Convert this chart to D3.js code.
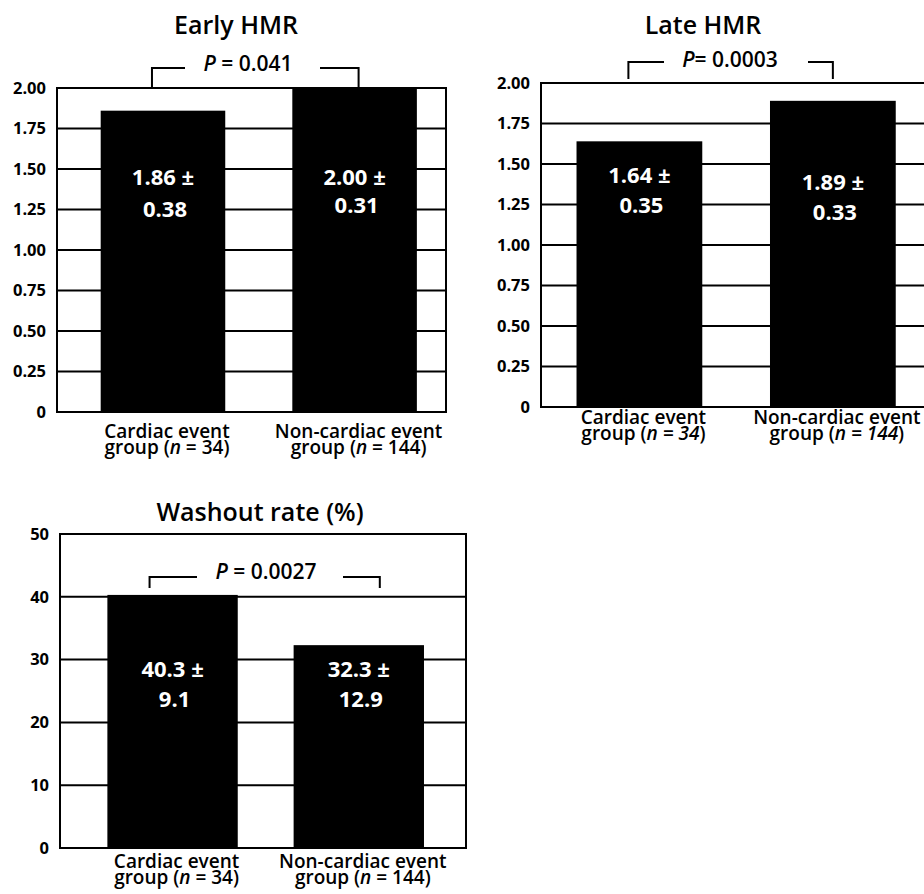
<!DOCTYPE html>
<html>
<head>
<meta charset="utf-8">
<style>
body { margin: 0; background: #fff; }
svg text { font-family: "Open Sans", Lato, sans-serif; font-weight: bold; fill: #000; }
.frame line, .grid line { stroke: #000; stroke-width: 2px; }
.bracket { fill: none; stroke: #000; stroke-width: 2px; }
</style>
</head>
<body>
<svg width="924" height="894"></svg>
<script src="https://cdn.jsdelivr.net/npm/d3@7"></script>
<script>

// group names and sizes
var groups = ["Cardiac event", "Non-cardiac event"];
var groupN = [34, 144];

// mean +/- SD for each measure
var earlyMean = [1.86, 2.00], earlySD = [0.38, 0.31];
var lateMean = [1.64, 1.89], lateSD = [0.35, 0.33];
var washMean = [40.3, 32.3], washSD = [9.1, 12.9];

// axis ticks
var hmrTicks = [0, 0.25, 0.5, 0.75, 1, 1.25, 1.5, 1.75, 2];
var washTicks = [0, 10, 20, 30, 40, 50];

var titles = ["Early HMR", "Late HMR", "Washout rate (%)"];
var pValues = ["0.041", "0.0003", "0.0027"];

var svg = d3.select("svg");

var fmtHmr = function(d) { return d === 0 ? "0" : d3.format(".2f")(d); };
var fmtWash = d3.format("d");

// layout for each panel
var panels = [
  { title: titles[0], mean: earlyMean, sd: earlySD, ticks: hmrTicks, fmt: fmtHmr, dec: 2,
    p: pValues[0], pSep: " = ", left: 57, right: 446, top: 88, bottom: 412,
    pad: [0.35, 0.19, 0.6], titleX: 236, titleY: 34, pX: 248, pY: 71, brTop: 68, brBot: 88, brOff: [-11, 4], brGap: [185, 320],
    labY: [97, 97], labGap: [32, 28], xlabY: 26, italicAll: false, rightBorder: true },
  { title: titles[1], mean: lateMean, sd: lateSD, ticks: hmrTicks, fmt: fmtHmr, dec: 2,
    p: pValues[1], pSep: "= ", left: 541, right: 926, top: 83, bottom: 407,
    pad: [0.35, 0.17, 0.54], titleX: 703, titleY: 34, pX: 730, pY: 67, brTop: 62, brBot: 79, brOff: [-11, 0], brGap: [664, 808],
    labY: [100, 107], labGap: [30, 30], xlabY: 17, italicAll: true, rightBorder: false },
  { title: titles[2], mean: washMean, sd: washSD, ticks: washTicks, fmt: fmtWash, dec: 1,
    p: pValues[2], pSep: " = ", left: 60, right: 466, top: 534, bottom: 848,
    pad: [0.3, 0.24, 0.53], titleX: 260, titleY: 521, pX: 266, pY: 579, brTop: 577, brBot: 588, brOff: [-23, 21], brGap: [197, 343],
    labY: [143, 143], labGap: [30, 30], xlabY: 20, italicAll: false, rightBorder: true }
];

panels.forEach(drawPanel);

function drawPanel(cfg) {
  var g = svg.append("g");
  var rows = groups.map(function(name, i) {
    return { name: name, n: groupN[i], mean: cfg.mean[i], sd: cfg.sd[i] };
  });

  var x = d3.scaleBand()
      .domain(groups)
      .range([cfg.left, cfg.right])
      .paddingInner(cfg.pad[0])
      .paddingOuter(cfg.pad[1])
      .align(cfg.pad[2]);

  var y = d3.scaleLinear()
      .domain([0, d3.max(cfg.ticks)])
      .range([cfg.bottom, cfg.top]);

  // gridlines (bars sit on top of them)
  g.append("g").attr("class", "grid")
    .selectAll("line")
    .data(cfg.ticks)
    .enter().append("line")
      .attr("x1", cfg.left).attr("x2", cfg.right)
      .attr("y1", function(d) { return y(d); })
      .attr("y2", function(d) { return y(d); });

  var frame = g.append("g").attr("class", "frame");
  frame.append("line")
      .attr("x1", cfg.left).attr("x2", cfg.left)
      .attr("y1", y.range()[1] - 1).attr("y2", y.range()[0] + 1);
  if (cfg.rightBorder) {
    frame.append("line")
        .attr("x1", cfg.right).attr("x2", cfg.right)
        .attr("y1", y.range()[1] - 1).attr("y2", y.range()[0] + 1);
  }

  // y tick labels
  var yAxis = d3.axisLeft(y).tickValues(cfg.ticks).tickFormat(cfg.fmt).tickSize(0).tickPadding(11);
  var ya = g.append("g")
      .attr("transform", "translate(" + cfg.left + ",0)")
      .call(yAxis);
  ya.select(".domain").remove();
  ya.attr("font-size", null).attr("font-family", null);
  ya.selectAll("text").style("font-size", "16.5px").attr("fill", "#000");

  // bars
  g.append("g")
    .selectAll("rect")
    .data(rows)
    .enter().append("rect")
      .attr("x", function(d) { return x(d.name); })
      .attr("y", function(d) { return y(d.mean); })
      .attr("width", x.bandwidth())
      .attr("height", function(d) { return y(0) - y(d.mean); })
      .attr("fill", "#000");

  // value labels inside bars
  var fmtVal = d3.format("." + cfg.dec + "f");
  var lab = g.append("g")
    .selectAll("text")
    .data(rows)
    .enter().append("text")
      .attr("text-anchor", "middle")
      .style("font-size", "22px")
      .style("fill", "#fff");
  lab.append("tspan")
      .attr("x", function(d) { return x(d.name) + x.bandwidth() / 2; })
      .attr("y", function(d, i) { return cfg.top + cfg.labY[i]; })
      .text(function(d) { return fmtVal(d.mean) + " \u00b1"; });
  lab.append("tspan")
      .attr("x", function(d) { return x(d.name) + x.bandwidth() / 2 + 2; })
      .attr("y", function(d, i) { return cfg.top + cfg.labY[i] + cfg.labGap[i]; })
      .text(function(d) { return cfg.dec === 2 ? fmtVal(d.sd) : d.sd; });

  // group labels, two lines
  var xl = g.append("g")
    .selectAll("g")
    .data(rows)
    .enter().append("g")
      .attr("transform", function(d) {
        return "translate(" + (x(d.name) + x.bandwidth() / 2 + 4) + "," + (cfg.bottom + cfg.xlabY) + ")";
      })
      .style("font-size", "19px");
  xl.append("text")
      .attr("text-anchor", "middle")
      .style("font-weight", "600")
      .text(function(d) { return d.name; });
  var l2 = xl.append("text")
      .attr("y", 16)
      .attr("text-anchor", "middle")
      .style("font-weight", "600");
  l2.append("tspan").text("group (");
  l2.append("tspan").style("font-style", "italic")
      .text(function(d) { return cfg.italicAll ? "n = " + d.n : "n"; });
  l2.append("tspan")
      .text(function(d) { return cfg.italicAll ? ")" : " = " + d.n + ")"; });

  // title
  g.append("text")
      .attr("x", cfg.titleX)
      .attr("y", cfg.titleY)
      .attr("text-anchor", "middle")
      .style("font-size", "25px")
      .style("font-weight", "600")
      .text(cfg.title);

  // significance bracket
  var bx0 = x(groups[0]) + x.bandwidth() / 2 + cfg.brOff[0];
  var bx1 = x(groups[1]) + x.bandwidth() / 2 + cfg.brOff[1];
  g.append("path").attr("class", "bracket")
      .attr("d", "M" + bx0 + "," + cfg.brBot + "V" + cfg.brTop + "H" + cfg.brGap[0]);
  g.append("path").attr("class", "bracket")
      .attr("d", "M" + cfg.brGap[1] + "," + cfg.brTop + "H" + bx1 + "V" + cfg.brBot);

  var pt = g.append("text")
      .attr("x", cfg.pX)
      .attr("y", cfg.pY)
      .attr("text-anchor", "middle")
      .style("font-size", "21px")
      .style("font-weight", "600");
  pt.append("tspan").style("font-style", "italic").text("P");
  pt.append("tspan").text(cfg.pSep + cfg.p);
}

</script>
</body>
</html>
